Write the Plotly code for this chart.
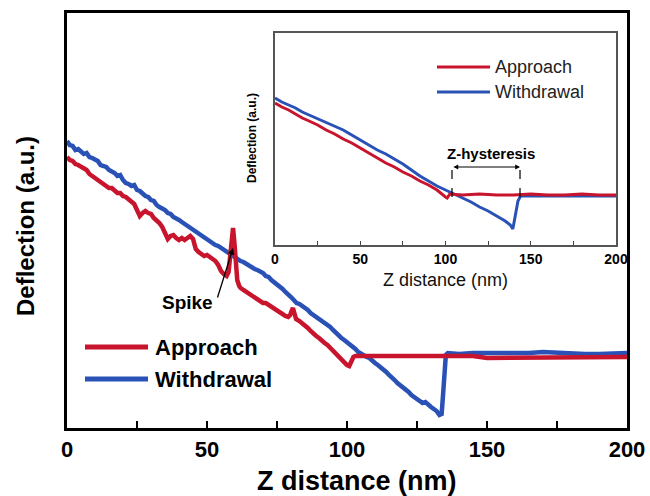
import plotly.graph_objects as go

# ---------------- data (main panel) ----------------
approach_z = [0, 1, 2, 3, 4, 5, 6, 7, 8, 9, 10, 11, 12, 13, 14, 15, 16, 17, 18, 19,
              20, 21, 22, 23, 24, 25, 26, 27, 28, 29, 30, 31, 32, 33, 34, 35, 36, 37, 38, 39,
              40, 41, 42, 43, 44, 45, 46, 47, 48, 49, 50, 51, 52, 53, 54, 55, 56, 57,
              57.7, 58.3, 58.8, 59.3, 59.8, 60.3, 60.8, 61.5, 62, 63, 64, 65, 66, 67, 68, 69,
              70, 71, 72, 73, 74, 75, 76, 77, 78, 79, 79.7, 80.2, 80.7, 81.2, 81.8, 83, 84, 85,
              86, 87, 88, 89, 90, 91, 92, 93, 94, 95, 96, 97, 98, 99, 100, 100.8, 101.5, 102.3,
              103, 105, 110, 115, 120, 125, 130, 135, 140, 145, 150, 155, 160, 165, 170, 175,
              180, 185, 190, 195, 200]
approach_d = [2.71, 2.68, 2.67, 2.64, 2.63, 2.61, 2.59, 2.58, 2.54, 2.52, 2.51, 2.49, 2.46, 2.45,
              2.43, 2.40, 2.40, 2.37, 2.35, 2.35, 2.32, 2.31, 2.29, 2.27, 2.24, 2.18, 2.12, 2.15,
              2.17, 2.15, 2.14, 2.10, 2.08, 2.05, 2.01, 1.96, 1.89, 1.92, 1.93, 1.90, 1.88, 1.90,
              1.88, 1.90, 1.92, 1.89, 1.79, 1.76, 1.74, 1.72, 1.73, 1.71, 1.70, 1.67, 1.63, 1.57,
              1.54, 1.52, 1.56, 1.70, 1.90, 2.00, 1.85, 1.62, 1.48, 1.42, 1.40, 1.38, 1.36, 1.34,
              1.32, 1.31, 1.29, 1.27, 1.25, 1.25, 1.23, 1.21, 1.19, 1.18, 1.16, 1.14, 1.12, 1.11,
              1.13, 1.17, 1.20, 1.15, 1.09, 1.07, 1.05, 1.03, 1.00, 0.97, 0.94, 0.92, 0.90, 0.87,
              0.85, 0.83, 0.80, 0.77, 0.74, 0.71, 0.68, 0.66, 0.63, 0.62, 0.66, 0.71, 0.72, 0.72,
              0.71, 0.71, 0.72, 0.72, 0.71, 0.71, 0.71, 0.72, 0.70, 0.70, 0.71, 0.71, 0.70, 0.70,
              0.71, 0.71, 0.70, 0.70, 0.71]

withdrawal_z = [0, 1, 2, 3, 4, 5, 6, 7, 8, 9, 10, 11, 12, 13, 14, 15, 16, 17, 18, 19,
                20, 21, 22, 23, 24, 25, 26, 27, 28, 29, 30, 31, 32, 33, 34, 35, 36, 37, 38, 39,
                40, 41, 42, 43, 44, 45, 46, 47, 48, 49, 50, 51, 52, 53, 54, 55, 56, 57, 58, 59,
                60, 61, 62, 63, 64, 65, 66, 67, 68, 69, 70, 71, 72, 73, 74, 75, 76, 77, 78, 79,
                80, 81, 82, 83, 84, 85, 86, 87, 88, 89, 90, 91, 92, 93, 94, 95, 96, 97, 98, 99,
                100, 101, 102, 103, 104, 105, 106, 107, 108, 109, 110, 111, 112, 113, 114, 115,
                116, 117, 118, 119, 120, 121, 122, 123, 124, 125, 126, 127, 128, 129, 130, 131,
                132, 133, 133.8, 134.3, 134.8, 135.3, 136, 140, 145, 150, 155, 160, 165, 170,
                175, 180, 185, 190, 195, 200]
withdrawal_d = [2.87, 2.83, 2.82, 2.78, 2.79, 2.76, 2.74, 2.75, 2.71, 2.70, 2.68, 2.67, 2.63, 2.62,
                2.61, 2.58, 2.57, 2.55, 2.52, 2.53, 2.48, 2.45, 2.44, 2.42, 2.43, 2.38, 2.37, 2.34,
                2.32, 2.31, 2.28, 2.27, 2.23, 2.21, 2.20, 2.18, 2.15, 2.14, 2.11, 2.10, 2.08, 2.06,
                2.04, 2.02, 2.00, 1.98, 1.96, 1.94, 1.92, 1.90, 1.88, 1.87, 1.85, 1.83, 1.82, 1.80,
                1.79, 1.77, 1.75, 1.73, 1.71, 1.69, 1.67, 1.66, 1.64, 1.62, 1.61, 1.59, 1.58, 1.57,
                1.55, 1.52, 1.51, 1.48, 1.46, 1.44, 1.42, 1.39, 1.36, 1.34, 1.31, 1.28, 1.25, 1.24,
                1.22, 1.21, 1.18, 1.15, 1.13, 1.12, 1.09, 1.07, 1.06, 1.03, 1.01, 0.98, 0.95, 0.93,
                0.90, 0.88, 0.86, 0.84, 0.81, 0.79, 0.76, 0.74, 0.73, 0.71, 0.70, 0.67, 0.65, 0.63,
                0.61, 0.59, 0.56, 0.53, 0.51, 0.48, 0.45, 0.43, 0.41, 0.38, 0.36, 0.33, 0.31, 0.29,
                0.26, 0.25, 0.26, 0.23, 0.21, 0.19, 0.17, 0.13, 0.14, 0.33, 0.58, 0.73, 0.75, 0.74,
                0.75, 0.75, 0.74, 0.74, 0.75, 0.76, 0.75, 0.75, 0.74, 0.74, 0.75, 0.75]

# ---------------- data (inset) ----------------
inset_approach_z = [0, 4, 8, 12, 16, 20, 25, 30, 35, 40, 45, 50, 55, 60, 65, 70, 75, 80, 85, 90,
                    95, 100, 101, 102.5, 110, 120, 130, 140, 150, 160, 170, 180, 190, 200]
inset_approach_d = [1.42, 1.38, 1.35, 1.31, 1.27, 1.24, 1.20, 1.15, 1.11, 1.06, 1.02, 0.97, 0.92,
                    0.87, 0.82, 0.78, 0.73, 0.69, 0.64, 0.60, 0.55, 0.48, 0.47, 0.51, 0.50, 0.51,
                    0.50, 0.50, 0.51, 0.50, 0.50, 0.51, 0.50, 0.50]
inset_withdrawal_z = [0, 4, 8, 12, 16, 20, 25, 30, 35, 40, 45, 50, 55, 60, 65, 70, 75, 80, 85, 90,
                      95, 100, 105, 110, 115, 120, 125, 130, 135, 138, 139.5, 141, 142.5, 144,
                      150, 160, 170, 180, 190, 200]
inset_withdrawal_d = [1.47, 1.43, 1.40, 1.37, 1.33, 1.30, 1.26, 1.23, 1.19, 1.15, 1.10, 1.05, 1.00,
                      0.95, 0.91, 0.86, 0.81, 0.75, 0.69, 0.64, 0.59, 0.55, 0.51, 0.47, 0.43, 0.38,
                      0.34, 0.29, 0.24, 0.20, 0.16, 0.30, 0.44, 0.49, 0.49, 0.49, 0.49, 0.49, 0.49,
                      0.49]

x_tick_vals = [0, 25, 50, 75, 100, 125, 150, 175, 200]
x_tick_text = ["0", "", "50", "", "100", "", "150", "", "200"]

series_names = ["Approach", "Withdrawal"]
x_title = "Z distance (nm)"
y_title = "Deflection (a.u.)"
RED = "#c8142c"
BLUE = "#2a52b6"
FONT = "Liberation Sans, Arial, sans-serif"

# layout geometry (page pixels; body margin is removed after plotting)
W, H = 650, 496
L, R, T, B = 67, 627, 13, 428


def px(xp):
    return (xp - L) / (R - L)


def py(yp):
    return (B - yp) / (B - T)


fig = go.Figure()
fig.add_trace(go.Scatter(x=withdrawal_z, y=withdrawal_d, mode="lines", name=series_names[1],
                         line=dict(color=BLUE, width=4.5), xaxis="x", yaxis="y", showlegend=False))
fig.add_trace(go.Scatter(x=approach_z, y=approach_d, mode="lines", name=series_names[0],
                         line=dict(color=RED, width=4.5), xaxis="x", yaxis="y", showlegend=False))
fig.add_trace(go.Scatter(x=inset_withdrawal_z, y=inset_withdrawal_d, mode="lines", name=series_names[1],
                         line=dict(color=BLUE, width=3), xaxis="x2", yaxis="y2", showlegend=False))
fig.add_trace(go.Scatter(x=inset_approach_z, y=inset_approach_d, mode="lines", name=series_names[0],
                         line=dict(color=RED, width=3), xaxis="x2", yaxis="y2", showlegend=False))

fig.update_layout(
    width=W, height=H,
    margin=dict(l=L, r=W - R, t=T, b=H - B, autoexpand=False),
    paper_bgcolor="white", plot_bgcolor="white",
    font=dict(family=FONT, color="black"),
    xaxis=dict(domain=[0, 1], range=[0, 200], anchor="y", automargin=False,
               showline=True, mirror=True, linecolor="black", linewidth=2.5,
               showgrid=False, zeroline=False,
               ticks="inside", tickvals=x_tick_vals, ticktext=x_tick_text,
               ticklen=7, tickwidth=2, tickcolor="black", ticklabeloverflow="allow",
               tickfont=dict(size=22, family=FONT, weight="bold")),
    yaxis=dict(domain=[0, 1], range=[0, 4.15], anchor="x", automargin=False,
               showline=True, mirror=True, linecolor="black", linewidth=2.5,
               showgrid=False, zeroline=False, showticklabels=False, ticks=""),
    xaxis2=dict(domain=[px(275), px(616)], range=[0, 200], anchor="y2", automargin=False,
                showline=True, mirror=True, linecolor="#555555", linewidth=1.5,
                showgrid=False, zeroline=False,
                ticks="inside", tickvals=x_tick_vals, ticktext=x_tick_text,
                ticklen=4, tickwidth=1.2, tickcolor="#444444", ticklabeloverflow="allow",
                tickfont=dict(size=14, family=FONT, weight="bold")),
    yaxis2=dict(domain=[py(245), py(33)], range=[0, 2.12], anchor="x2", automargin=False,
                showline=True, mirror=True, linecolor="#555555", linewidth=1.5,
                showgrid=False, zeroline=False, showticklabels=False, ticks=""),
)

shapes = []
annotations = []

# axis titles
annotations.append(dict(text=x_title, xref="paper", yref="paper", x=px(357), y=py(481),
                        xanchor="center", yanchor="middle", showarrow=False,
                        font=dict(size=27, family=FONT, weight="bold", color="black")))
annotations.append(dict(text=y_title, xref="paper", yref="paper", x=px(25), y=py(226),
                        xanchor="center", yanchor="middle", showarrow=False, textangle=-90,
                        font=dict(size=24, family=FONT, weight="bold", color="black")))
annotations.append(dict(text=x_title, xref="paper", yref="paper", x=px(445), y=py(280),
                        xanchor="center", yanchor="middle", showarrow=False,
                        font=dict(size=18, family=FONT, color="#111111")))
annotations.append(dict(text=y_title, xref="paper", yref="paper", x=px(252), y=py(138),
                        xanchor="center", yanchor="middle", showarrow=False, textangle=-90,
                        font=dict(size=12, family=FONT, weight="bold", color="black")))

# main legend (drawn manually to get the long line samples)
for name, color, yp in [(series_names[0], RED, 347), (series_names[1], BLUE, 379)]:
    shapes.append(dict(type="line", xref="paper", yref="paper", x0=px(85), x1=px(148),
                       y0=py(yp), y1=py(yp), line=dict(color=color, width=5)))
    annotations.append(dict(text=name, xref="paper", yref="paper", x=px(153), y=py(yp),
                            xanchor="left", yanchor="middle", showarrow=False,
                            font=dict(size=22, family=FONT, weight="bold", color="black")))

# inset legend
for name, color, yp in [(series_names[0], RED, 67), (series_names[1], BLUE, 92)]:
    shapes.append(dict(type="line", xref="paper", yref="paper", x0=px(437), x1=px(490),
                       y0=py(yp), y1=py(yp), line=dict(color=color, width=3)))
    annotations.append(dict(text=name, xref="paper", yref="paper", x=px(493), y=py(yp),
                            xanchor="left", yanchor="middle", showarrow=False,
                            font=dict(size=18, family=FONT, color="#222222")))

# Spike annotation
annotations.append(dict(text="Spike", xref="x", yref="y", x=43.0, y=1.26, showarrow=False,
                        xanchor="center", yanchor="middle",
                        font=dict(size=19, family=FONT, weight="bold", color="black")))
annotations.append(dict(text="", xref="x", yref="y", x=59.3, y=1.80, ax=-16, ay=51,
                        showarrow=True, arrowhead=2, arrowsize=1, arrowwidth=1.3,
                        arrowcolor="black"))

# Z-hysteresis marker in the inset
hx0, hx1, hy, hbase = 103.8, 143.7, 0.78, 0.48
for xv in (hx0, hx1):
    shapes.append(dict(type="line", xref="x2", yref="y2", x0=xv, x1=xv, y0=hbase, y1=hy,
                       line=dict(color="black", width=1.2, dash="dash")))
annotations.append(dict(text="", xref="x2", yref="y2", x=hx1, y=hy, axref="x2", ayref="y2",
                        ax=hx0, ay=hy, showarrow=True, arrowside="end+start", arrowhead=2,
                        arrowsize=0.8, arrowwidth=1.2, arrowcolor="black"))
annotations.append(dict(text="Z-hysteresis", xref="x2", yref="y2", x=126.5, y=0.92,
                        showarrow=False, xanchor="center", yanchor="middle",
                        font=dict(size=15, family=FONT, weight="bold", color="black")))

fig.update_layout(shapes=shapes, annotations=annotations)
fig.write_html("out.html",
               config={"displayModeBar": False},
               post_script="document.body.style.margin='0';document.body.style.overflow='hidden';")
